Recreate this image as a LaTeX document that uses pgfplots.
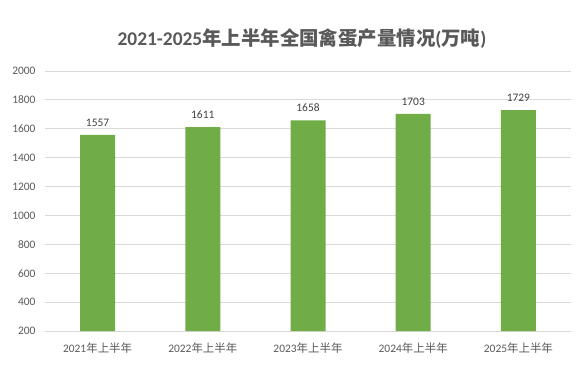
\documentclass[border=0pt]{standalone}
\usepackage{pgfplots}
\pgfplotsset{compat=1.18}
\usepackage{fontspec}
\setmainfont{Carlito}
\newfontfamily\cjk{Noto Sans CJK SC}
\newfontfamily\cjkb{Noto Sans CJK SC Bold}
\definecolor{bargreen}{HTML}{70AD47}
\definecolor{txtgray}{HTML}{595959}
\definecolor{gridgray}{HTML}{D9D9D9}
\begin{document}
\begin{tikzpicture}[x=1bp,y=1bp]
\useasboundingbox (0,0) rectangle (587,373);
\begin{axis}[
  at={(45bp,42bp)}, anchor=south west,
  scale only axis, width=526bp, height=260bp,
  xmin=-0.5, xmax=4.5, ymin=200, ymax=2000,
  ytick={200,400,...,2000},
  xtick={0,1,2,3,4},
  xticklabels={2021{\cjk 年上半年},2022{\cjk 年上半年},2023{\cjk 年上半年},2024{\cjk 年上半年},2025{\cjk 年上半年}},
  axis line style={draw=none},
  major tick length=0pt,
  ymajorgrids, grid style={gridgray, line width=0.8pt},
  tick label style={font=\fontsize{11.5}{13}\selectfont, text=txtgray},
  /pgf/number format/assume math mode=true,
  yticklabel style={xshift=-6bp},
  xticklabel style={yshift=-8bp},
  yticklabel={\pgfmathprintnumber[fixed,precision=0,1000 sep={}]{\tick}},
  nodes near coords,
  every node near coord/.append style={font=\fontsize{11.5}{13}\selectfont, text=black!75, yshift=5bp},
  point meta=explicit symbolic,
  clip=false,
]
\addplot[ybar, bar width=35bp, fill=bargreen, draw=none] coordinates {
  (0,1557) [1557] (1,1611) [1611] (2,1658) [1658] (3,1703) [1703] (4,1729) [1729]
};
\end{axis}
\node[font=\fontsize{19.5}{22}\selectfont\bfseries, text=txtgray] at (302,334)
  {2021-2025{\cjkb 年上半年全国禽蛋产量情况}({\cjkb 万吨})};
\end{tikzpicture}
\end{document}
